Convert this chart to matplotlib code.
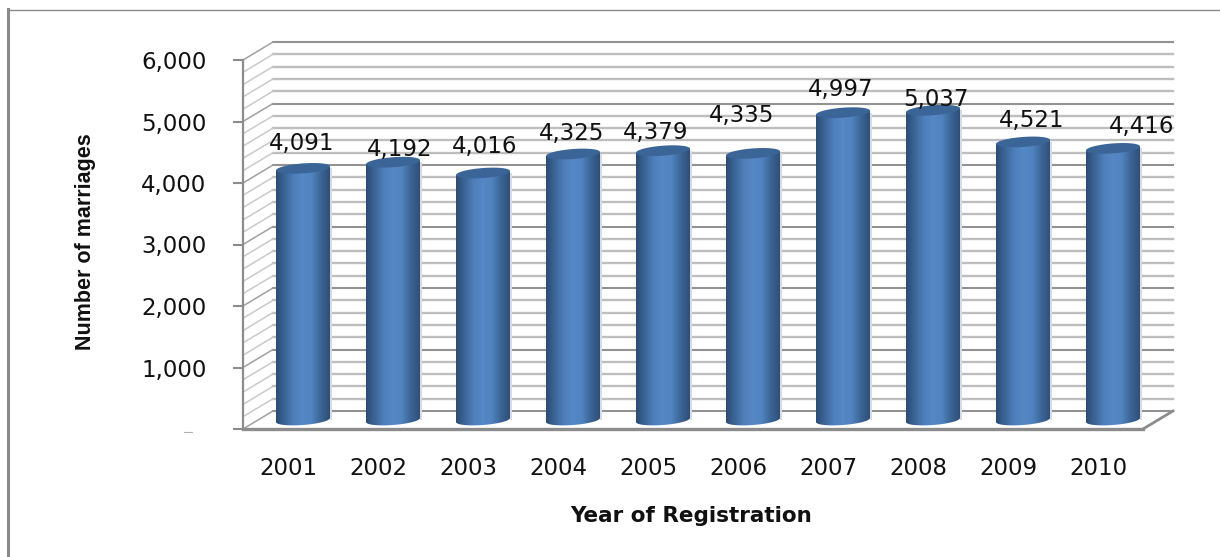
import numpy as np
import matplotlib
matplotlib.use("Agg")
import matplotlib.pyplot as plt
from matplotlib.lines import Line2D
from matplotlib.patches import Polygon
from matplotlib.colors import LinearSegmentedColormap

years = ["2001", "2002", "2003", "2004", "2005", "2006", "2007", "2008", "2009", "2010"]
marriages = [4091, 4192, 4016, 4325, 4379, 4335, 4997, 5037, 4521, 4416]
y_ticks = [0, 1000, 2000, 3000, 4000, 5000, 6000]
y_ticklabels = ["", "1,000", "2,000", "3,000", "4,000", "5,000", "6,000"]

# label nudges in pixels, the labels are not sitting straight on the bars
label_dx = [-1, 7, 2, -1, -7, -11, -2, 3, 9, 29]
label_dy = [25, 13, 27, 21, 19, 38, 24, 11, 22, 22]

W, H = 1220, 557
plt.rcParams['font.family'] = ['DejaVu Sans']

f = plt.figure(figsize=(W / 100, H / 100), dpi=100)
ax = f.add_axes([243 / W, (H - 429) / H, 900 / W, 369 / H])
ax.set_xlim(0, 10)
ax.set_ylim(0, 6000)

# size of one pixel in data units
px = 10 / 900
py = 6000 / 369
depth_x = 30 * px
depth_y = 18 * py

# back wall grid and the slanted lines on the side wall
for v in np.arange(0, 6001, 200):
    major = v % 1000 == 0
    c = '#929292' if major else '#bebebe'
    lw = 1.5 if major else 1.7
    ax.plot([depth_x, 10 + depth_x], [v + depth_y, v + depth_y], color=c, lw=lw, zorder=1, clip_on=False)
    ax.plot([0, depth_x], [v, v + depth_y], color='#a0a0a0' if major else '#cacaca', lw=1.1, zorder=1, clip_on=False)

# floor
ax.plot([10, 10 + depth_x], [0, depth_y], color='#8c8c8c', lw=2, zorder=2, clip_on=False)

cyl = LinearSegmentedColormap.from_list("cyl", ['#2c4c74', '#3c6698', '#4f7fbb', '#5687c6', '#5083bf', '#3c6596', '#2e4f78'])
grad = np.linspace(0, 1, 128).reshape(1, -1)

half_w = 27 * px
half_h = 5 * py
tilt = 2 * py
base = 9 * py
t1 = np.linspace(np.pi, 2 * np.pi, 60)
t2 = np.linspace(0, 2 * np.pi, 120)

for i, val in enumerate(marriages):
    cx = i + 0.5 + 15 * px
    top = base + val
    # shadow edge on the right of each bar
    ax.fill_between([cx + half_w, cx + half_w + 2 * px], base, top, color='#d8dbe0', lw=0, zorder=2, clip_on=False)
    xs = cx + half_w * np.cos(t1)
    ys = base + half_h * np.sin(t1) + tilt * np.cos(t1)
    body = np.column_stack([np.r_[xs, cx + half_w, cx - half_w], np.r_[ys, top + tilt, top - tilt]])
    patch = Polygon(body, closed=True, fc='none', ec='none', transform=ax.transData)
    ax.add_patch(patch)
    im = ax.imshow(grad, cmap=cyl, extent=[cx - half_w, cx + half_w, base - half_h - tilt, top + tilt],
                   aspect='auto', zorder=3, interpolation='bilinear')
    im.set_clip_path(patch)
    cap = np.column_stack([cx + half_w * np.cos(t2), top + half_h * np.sin(t2) + tilt * np.cos(t2)])
    ax.add_patch(Polygon(cap, closed=True, fc='#3b6597', ec='none', zorder=4, clip_on=False))
    ax.annotate("{:,}".format(val), (cx, top), xytext=(label_dx[i] * 0.72, (label_dy[i] - 12) * 0.72),
                textcoords='offset points', ha='center', va='bottom', fontsize=16.5, color='#111111',
                zorder=5, annotation_clip=False)

ax.set_xlim(0, 10)
ax.set_ylim(0, 6000)

for side in ['top', 'right']:
    ax.spines[side].set_visible(False)
for side in ['left', 'bottom']:
    ax.spines[side].set_color('#8c8c8c')
ax.spines['left'].set_linewidth(1.6)
ax.spines['bottom'].set_linewidth(2.4)
ax.spines['bottom'].set_zorder(6)

ax.set_yticks(y_ticks)
ax.set_yticklabels(y_ticklabels, fontsize=16.5, color='#111111')
ax.tick_params(axis='y', length=7.2, width=1.5, color='#8c8c8c', pad=19)
ax.set_xticks(np.arange(len(years)) + 0.5)
ax.set_xticklabels(years, fontsize=16.5, color='#111111')
ax.tick_params(axis='x', length=0, pad=20)

f.text(691 / W, 1 - 516 / H, "Year of Registration", ha='center', va='center', fontsize=15.5,
       fontweight='bold', color='#111111')
f.text(86 / W, 1 - 242 / H, "Number of marriages", rotation=90, ha='center', va='center', fontsize=15.5,
       fontweight='bold', family=['Liberation Sans Narrow', 'Liberation Sans'], color='#111111')

# outer frame, only left and top survive in the picture, and the stray dash of the zero label
f.add_artist(Line2D([7.5 / W, 7.5 / W], [0, 1 - 9 / H], color='#8a8a8a', lw=2.2))
f.add_artist(Line2D([7.5 / W, 1], [1 - 9.5 / H, 1 - 9.5 / H], color='#8a8a8a', lw=1))
f.add_artist(Line2D([184 / W, 192 / W], [1 - 432 / H, 1 - 432 / H], color='#b0b0b0', lw=0.8))

plt.savefig('out.png', dpi=100)
